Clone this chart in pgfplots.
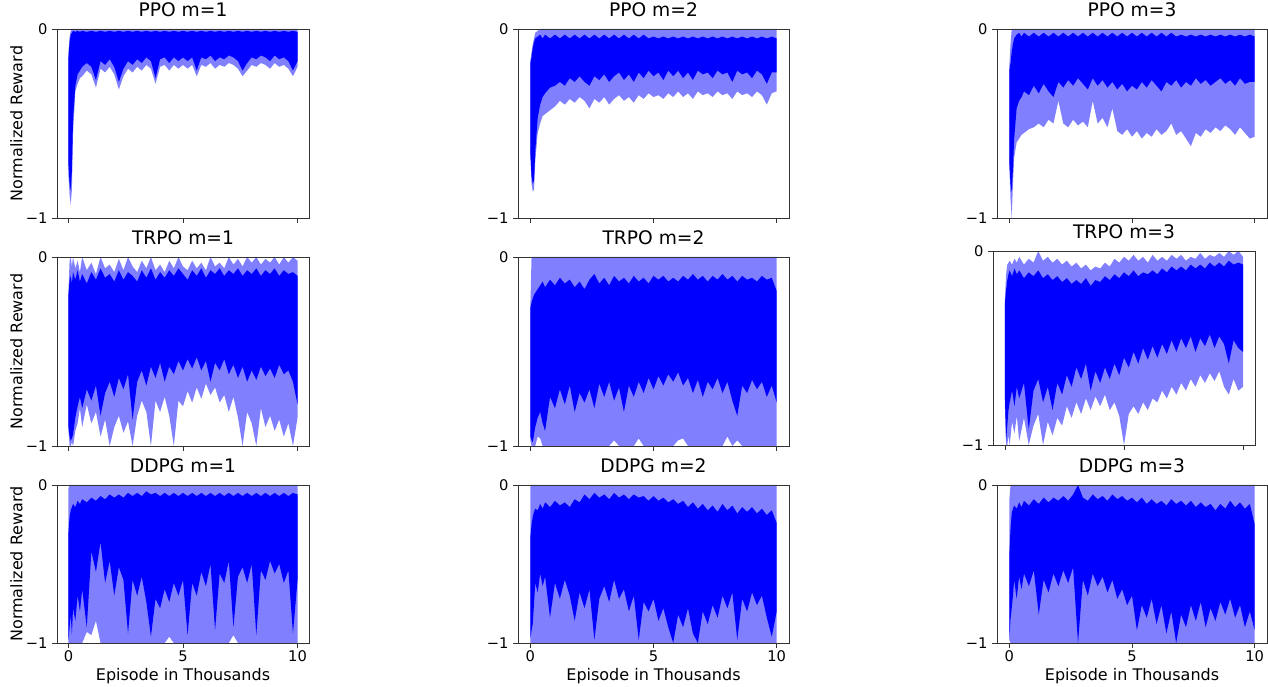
\documentclass[border=0pt]{standalone}
\usepackage{fontspec}
\setmainfont{DejaVu Sans}
\usepackage{pgfplots}
\usepackage{pgfplotstable}
\pgfplotsset{compat=1.18}
\usepgfplotslibrary{fillbetween}
\definecolor{lb}{RGB}{128,128,255}

\pgfplotstableread{
x lu ll du dl
0 -0.12 -0.78 -0.15 -0.72
0.05 -0.04 -0.88 -0.07 -0.82
0.1 -0.01 -0.93 -0.03 -0.85
0.15 0 -0.85 -0.02 -0.75
0.2 0 -0.55 -0.01 -0.48
0.3 0 -0.33 -0.015 -0.3
0.4 0 -0.29 -0.01 -0.24
0.5 0 -0.26 -0.015 -0.22
0.6 0 -0.25 -0.01 -0.2
0.8 0 -0.22 -0.015 -0.18
1.0 0 -0.24 -0.01 -0.2
1.2 0 -0.31 -0.015 -0.27
1.4 0 -0.21 -0.01 -0.17
1.6 0 -0.23 -0.015 -0.19
1.8 0 -0.2 -0.01 -0.16
2.0 0 -0.24 -0.015 -0.2
2.2 0 -0.32 -0.01 -0.28
2.4 0 -0.25 -0.015 -0.21
2.6 0 -0.21 -0.01 -0.17
2.8 0 -0.23 -0.015 -0.19
3.0 0 -0.2 -0.01 -0.16
3.2 0 -0.22 -0.015 -0.18
3.4 0 -0.19 -0.01 -0.15
3.6 0 -0.21 -0.015 -0.17
3.8 0 -0.29 -0.01 -0.26
4.0 0 -0.2 -0.015 -0.16
4.2 0 -0.19 -0.01 -0.15
4.4 0 -0.22 -0.015 -0.18
4.6 0 -0.19 -0.01 -0.15
4.8 0 -0.21 -0.015 -0.17
5.0 0 -0.19 -0.01 -0.15
5.2 0 -0.21 -0.015 -0.17
5.4 0 -0.19 -0.01 -0.15
5.6 0 -0.25 -0.015 -0.22
5.8 0 -0.19 -0.01 -0.15
6.0 0 -0.2 -0.015 -0.16
6.2 0 -0.18 -0.01 -0.14
6.4 0 -0.21 -0.015 -0.17
6.6 0 -0.19 -0.01 -0.15
6.8 0 -0.2 -0.015 -0.16
7.0 0 -0.18 -0.01 -0.14
7.2 0 -0.19 -0.015 -0.15
7.4 0 -0.21 -0.01 -0.17
7.6 0 -0.25 -0.015 -0.22
7.8 0 -0.22 -0.01 -0.18
8.0 0 -0.19 -0.015 -0.15
8.2 0 -0.2 -0.01 -0.16
8.4 0 -0.18 -0.015 -0.14
8.6 0 -0.19 -0.01 -0.15
8.8 0 -0.21 -0.015 -0.17
9.0 0 -0.18 -0.01 -0.14
9.2 0 -0.2 -0.015 -0.16
9.4 0 -0.19 -0.01 -0.15
9.6 0 -0.21 -0.015 -0.17
9.8 0 -0.25 -0.01 -0.22
10.0 0 -0.2 -0.015 -0.17
}\tPPOa

\pgfplotstableread{
x lu ll du dl
0 -0.17 -0.67 -0.18 -0.65
0.05 -0.12 -0.82 -0.15 -0.78
0.1 -0.08 -0.86 -0.1 -0.82
0.15 -0.05 -0.85 -0.07 -0.8
0.2 -0.02 -0.7 -0.05 -0.65
0.3 -0.01 -0.55 -0.04 -0.47
0.4 0 -0.5 -0.03 -0.4
0.5 0 -0.46 -0.05 -0.36
0.6 0 -0.45 -0.03 -0.34
0.8 0 -0.43 -0.05 -0.31
1.0 0 -0.41 -0.03 -0.3
1.2 0 -0.38 -0.05 -0.28
1.4 0 -0.4 -0.03 -0.3
1.6 0 -0.37 -0.05 -0.26
1.8 0 -0.39 -0.03 -0.28
2.0 0 -0.36 -0.05 -0.25
2.2 0 -0.38 -0.03 -0.28
2.4 0 -0.42 -0.05 -0.3
2.6 0 -0.37 -0.03 -0.25
2.8 0 -0.39 -0.05 -0.27
3.0 0 -0.36 -0.03 -0.24
3.2 0 -0.4 -0.05 -0.28
3.4 0 -0.37 -0.03 -0.25
3.6 0 -0.35 -0.05 -0.23
3.8 0 -0.38 -0.03 -0.27
4.0 0 -0.36 -0.05 -0.24
4.2 0 -0.39 -0.03 -0.28
4.4 0 -0.35 -0.05 -0.23
4.6 0 -0.37 -0.03 -0.26
4.8 0 -0.34 -0.05 -0.22
5.0 0 -0.36 -0.04 -0.25
5.2 0 -0.35 -0.05 -0.23
5.4 0 -0.37 -0.04 -0.27
5.6 0 -0.34 -0.05 -0.22
5.8 0 -0.36 -0.04 -0.25
6.0 0 -0.33 -0.05 -0.22
6.2 0 -0.36 -0.04 -0.26
6.4 0 -0.34 -0.05 -0.23
6.6 0 -0.37 -0.04 -0.27
6.8 0 -0.33 -0.05 -0.22
7.0 0 -0.35 -0.04 -0.24
7.2 0 -0.34 -0.05 -0.23
7.4 0 -0.36 -0.04 -0.26
7.6 0 -0.33 -0.05 -0.22
7.8 0 -0.35 -0.04 -0.24
8.0 0 -0.34 -0.05 -0.23
8.2 0 -0.37 -0.04 -0.28
8.4 0 -0.33 -0.05 -0.22
8.6 0 -0.35 -0.04 -0.24
8.8 0 -0.34 -0.05 -0.23
9.0 0 -0.36 -0.04 -0.26
9.2 0 -0.33 -0.05 -0.22
9.4 0 -0.35 -0.04 -0.24
9.6 0 -0.4 -0.05 -0.29
9.8 0 -0.34 -0.04 -0.23
10.0 0 -0.33 -0.05 -0.23
}\tPPOb

\pgfplotstableread{
x lu ll du dl
0 -0.2 -0.72 -0.22 -0.7
0.05 -0.08 -0.9 -0.18 -0.82
0.1 0 -1.0 -0.12 -0.86
0.15 0 -0.82 -0.08 -0.74
0.2 0 -0.68 -0.05 -0.58
0.3 0 -0.6 -0.03 -0.42
0.4 0 -0.58 -0.02 -0.38
0.5 0 -0.56 -0.04 -0.36
0.6 0 -0.55 -0.02 -0.33
0.8 0 -0.53 -0.04 -0.35
1.0 0 -0.52 -0.02 -0.3
1.2 0 -0.5 -0.04 -0.34
1.4 0 -0.52 -0.02 -0.29
1.6 0 -0.48 -0.04 -0.33
1.8 0 -0.5 -0.02 -0.36
2.0 0 -0.38 -0.04 -0.28
2.2 0 -0.5 -0.02 -0.31
2.4 0 -0.52 -0.04 -0.27
2.6 0 -0.48 -0.02 -0.3
2.8 0 -0.51 -0.04 -0.26
3.0 0 -0.49 -0.02 -0.29
3.2 0 -0.52 -0.04 -0.32
3.4 0 -0.38 -0.02 -0.26
3.6 0 -0.5 -0.04 -0.3
3.8 0 -0.47 -0.02 -0.27
4.0 0 -0.52 -0.04 -0.31
4.2 0 -0.42 -0.02 -0.28
4.4 0 -0.54 -0.04 -0.32
4.6 0 -0.56 -0.02 -0.29
4.8 0 -0.53 -0.04 -0.33
5.0 0 -0.57 -0.02 -0.3
5.2 0 -0.54 -0.04 -0.32
5.4 0 -0.58 -0.02 -0.28
5.6 0 -0.55 -0.04 -0.31
5.8 0 -0.57 -0.02 -0.27
6.0 0 -0.53 -0.04 -0.3
6.2 0 -0.56 -0.02 -0.33
6.4 0 -0.54 -0.04 -0.28
6.6 0 -0.5 -0.02 -0.3
6.8 0 -0.56 -0.04 -0.27
7.0 0 -0.54 -0.03 -0.31
7.2 0 -0.58 -0.04 -0.28
7.4 0 -0.62 -0.03 -0.3
7.6 0 -0.55 -0.04 -0.26
7.8 0 -0.57 -0.03 -0.29
8.0 0 -0.53 -0.04 -0.27
8.2 0 -0.55 -0.03 -0.3
8.4 0 -0.52 -0.04 -0.28
8.6 0 -0.54 -0.03 -0.26
8.8 0 -0.51 -0.04 -0.29
9.0 0 -0.53 -0.03 -0.27
9.2 0 -0.56 -0.04 -0.3
9.4 0 -0.52 -0.03 -0.26
9.6 0 -0.55 -0.04 -0.29
9.8 0 -0.58 -0.03 -0.28
10.0 0 -0.57 -0.04 -0.28
}\tPPOc

\pgfplotstableread{
x lu ll du dl
0 -0.18 -0.92 -0.2 -0.9
0.05 -0.02 -1.0 -0.12 -0.95
0.1 0 -1.0 -0.1 -0.97
0.15 -0.05 -0.98 -0.14 -0.96
0.2 0 -1.0 -0.08 -0.94
0.3 -0.06 -0.92 -0.12 -0.85
0.4 -0.02 -0.88 -0.07 -0.79
0.5 -0.08 -0.8 -0.13 -0.74
0.6 0 -0.9 -0.09 -0.8
0.8 -0.07 -0.78 -0.14 -0.7
1.0 -0.03 -0.88 -0.08 -0.76
1.2 -0.09 -0.82 -0.12 -0.68
1.4 0 -0.95 -0.06 -0.84
1.6 -0.06 -0.86 -0.11 -0.72
1.8 -0.04 -1.0 -0.09 -0.66
2.0 -0.08 -0.9 -0.13 -0.74
2.2 -0.01 -0.84 -0.07 -0.64
2.4 -0.07 -0.93 -0.12 -0.7
2.6 0 -0.87 -0.08 -0.62
2.8 -0.05 -1.0 -0.1 -0.86
3.0 -0.08 -0.84 -0.13 -0.66
3.2 -0.02 -0.76 -0.07 -0.6
3.4 -0.06 -0.82 -0.11 -0.68
3.6 0 -1.0 -0.06 -0.58
3.8 -0.07 -0.76 -0.12 -0.64
4.0 -0.04 -0.82 -0.08 -0.56
4.2 -0.08 -0.74 -0.11 -0.66
4.4 -0.02 -0.84 -0.07 -0.58
4.6 -0.06 -1.0 -0.1 -0.62
4.8 0 -0.76 -0.06 -0.55
5.0 -0.05 -0.79 -0.09 -0.6
5.2 -0.07 -0.71 -0.12 -0.54
5.4 -0.02 -0.77 -0.07 -0.59
5.6 -0.06 -0.69 -0.1 -0.53
5.8 -0.03 -0.75 -0.06 -0.6
6.0 -0.07 -0.67 -0.11 -0.55
6.2 0 -0.73 -0.07 -0.66
6.4 -0.05 -0.69 -0.09 -0.56
6.6 -0.03 -0.77 -0.06 -0.6
6.8 -0.06 -0.73 -0.1 -0.54
7.0 0 -0.82 -0.07 -0.62
7.2 -0.04 -0.74 -0.09 -0.57
7.4 -0.01 -0.85 -0.06 -0.64
7.6 -0.05 -1.0 -0.1 -0.58
7.8 0 -0.82 -0.07 -0.66
8.0 -0.03 -0.88 -0.09 -0.6
8.2 0 -1.0 -0.06 -0.65
8.4 -0.04 -0.8 -0.1 -0.58
8.6 -0.01 -0.9 -0.07 -0.63
8.8 -0.03 -0.84 -0.09 -0.59
9.0 0 -0.92 -0.06 -0.64
9.2 -0.04 -0.86 -0.1 -0.57
9.4 0 -0.95 -0.07 -0.62
9.6 -0.03 -0.88 -0.09 -0.6
9.8 0 -1.0 -0.08 -0.66
10.0 -0.02 -0.85 -0.1 -0.78
}\tTRPOa

\pgfplotstableread{
x lu ll du dl
0 -0.27 -0.97 -0.27 -0.95
0.05 0 -1.0 -0.24 -0.97
0.1 0 -1.0 -0.22 -0.98
0.15 0 -1.0 -0.2 -0.94
0.2 0 -1.0 -0.19 -0.9
0.3 0 -0.95 -0.17 -0.85
0.4 0 -0.96 -0.15 -0.82
0.5 0 -1.0 -0.13 -0.88
0.6 0 -1.0 -0.16 -0.92
0.8 0 -1.0 -0.12 -0.74
1.0 0 -1.0 -0.15 -0.8
1.2 0 -1.0 -0.11 -0.7
1.4 0 -1.0 -0.14 -0.78
1.6 0 -1.0 -0.12 -0.68
1.8 0 -1.0 -0.16 -0.82
2.0 0 -1.0 -0.13 -0.72
2.2 0 -1.0 -0.17 -0.77
2.4 0 -1.0 -0.12 -0.7
2.6 0 -1.0 -0.09 -0.8
2.8 0 -1.0 -0.14 -0.67
3.0 0 -1.0 -0.11 -0.74
3.2 0 -1.0 -0.15 -0.66
3.4 0 -0.97 -0.1 -0.76
3.6 0 -1.0 -0.13 -0.69
3.8 0 -1.0 -0.11 -0.82
4.0 0 -1.0 -0.14 -0.68
4.2 0 -1.0 -0.1 -0.74
4.4 0 -0.96 -0.13 -0.66
4.6 0 -1.0 -0.11 -0.72
4.8 0 -1.0 -0.14 -0.64
5.0 0 -1.0 -0.1 -0.7
5.2 0 -1.0 -0.12 -0.63
5.4 0 -1.0 -0.1 -0.68
5.6 0 -1.0 -0.13 -0.62
5.8 0 -1.0 -0.11 -0.66
6.0 0 -0.97 -0.13 -0.61
6.2 0 -0.96 -0.1 -0.68
6.4 0 -1.0 -0.12 -0.64
6.6 0 -1.0 -0.09 -0.72
6.8 0 -1.0 -0.12 -0.65
7.0 0 -1.0 -0.1 -0.74
7.2 0 -1.0 -0.13 -0.66
7.4 0 -1.0 -0.1 -0.7
7.6 0 -1.0 -0.12 -0.64
7.8 0 -1.0 -0.09 -0.72
8.0 0 -0.95 -0.12 -0.66
8.2 0 -1.0 -0.1 -0.76
8.4 0 -0.97 -0.13 -0.84
8.6 0 -1.0 -0.1 -0.68
8.8 0 -1.0 -0.12 -0.72
9.0 0 -1.0 -0.11 -0.65
9.2 0 -1.0 -0.13 -0.7
9.4 0 -1.0 -0.1 -0.66
9.6 0 -1.0 -0.12 -0.74
9.8 0 -1.0 -0.11 -0.68
10.0 0 -1.0 -0.18 -0.77
}\tTRPOb

\pgfplotstableread{
x lu ll du dl
0 -0.25 -0.8 -0.27 -0.75
0.05 -0.12 -1.0 -0.2 -0.98
0.1 -0.07 -1.0 -0.15 -0.9
0.15 -0.06 -0.95 -0.12 -0.82
0.2 -0.05 -1.0 -0.1 -0.78
0.3 -0.07 -0.88 -0.13 -0.72
0.4 -0.04 -0.94 -0.09 -0.8
0.5 -0.06 -0.85 -0.12 -0.7
0.6 -0.03 -0.98 -0.1 -0.76
0.8 -0.07 -0.86 -0.14 -0.68
1.0 -0.04 -1.0 -0.11 -0.92
1.2 -0.06 -0.9 -0.13 -0.72
1.4 0 -0.84 -0.1 -0.66
1.6 -0.05 -1.0 -0.14 -0.78
1.8 -0.03 -0.88 -0.12 -0.7
2.0 -0.06 -0.95 -0.15 -0.82
2.2 -0.04 -0.86 -0.13 -0.68
2.4 -0.07 -0.9 -0.16 -0.74
2.6 -0.05 -0.8 -0.14 -0.64
2.8 -0.08 -0.86 -0.17 -0.7
3.0 -0.06 -0.78 -0.15 -0.6
3.2 -0.09 -0.84 -0.17 -0.66
3.4 -0.07 -0.76 -0.14 -0.58
3.6 -0.1 -0.82 -0.18 -0.72
3.8 -0.08 -0.75 -0.15 -0.62
4.0 -0.09 -0.8 -0.16 -0.68
4.2 -0.06 -0.74 -0.13 -0.6
4.4 -0.08 -0.82 -0.15 -0.66
4.6 -0.04 -0.78 -0.12 -0.58
4.8 -0.06 -0.85 -0.14 -0.64
5.0 -0.03 -1.0 -0.11 -0.55
5.2 -0.05 -0.84 -0.13 -0.6
5.4 -0.02 -0.8 -0.1 -0.52
5.6 -0.05 -0.84 -0.13 -0.58
5.8 -0.03 -0.78 -0.11 -0.5
6.0 -0.06 -0.82 -0.12 -0.56
6.2 -0.02 -0.76 -0.1 -0.49
6.4 -0.05 -0.78 -0.12 -0.55
6.6 -0.03 -0.72 -0.09 -0.48
6.8 -0.05 -0.76 -0.11 -0.53
7.0 -0.02 -0.7 -0.08 -0.46
7.2 -0.04 -0.74 -0.1 -0.52
7.4 -0.02 -0.68 -0.08 -0.45
7.6 -0.05 -0.72 -0.1 -0.5
7.8 -0.03 -0.66 -0.07 -0.44
8.0 -0.04 -0.7 -0.09 -0.52
8.2 -0.01 -0.64 -0.07 -0.45
8.4 -0.04 -0.68 -0.09 -0.49
8.6 -0.02 -0.63 -0.06 -0.43
8.8 -0.03 -0.67 -0.08 -0.5
9.0 -0.01 -0.62 -0.06 -0.44
9.2 -0.03 -0.7 -0.08 -0.48
9.4 0 -0.74 -0.05 -0.58
9.6 -0.02 -0.66 -0.07 -0.46
9.8 0 -0.72 -0.06 -0.5
10.0 -0.03 -0.7 -0.07 -0.52
}\tTRPOc

\pgfplotstableread{
x lu ll du dl
0 -0.02 -1.0 -0.3 -0.98
0.05 0 -1.0 -0.2 -0.9
0.1 0 -1.0 -0.16 -0.82
0.15 0 -1.0 -0.14 -0.95
0.2 0 -1.0 -0.12 -0.78
0.3 0 -1.0 -0.14 -0.86
0.4 0 -1.0 -0.1 -0.7
0.5 0 -1.0 -0.12 -0.8
0.6 0 -1.0 -0.09 -0.66
0.8 0 -0.93 -0.11 -0.9
1.0 0 -0.95 -0.08 -0.42
1.2 0 -0.86 -0.1 -0.55
1.4 0 -1.0 -0.07 -0.36
1.6 0 -1.0 -0.09 -0.62
1.8 0 -1.0 -0.06 -0.48
2.0 0 -1.0 -0.08 -0.7
2.2 0 -1.0 -0.06 -0.52
2.4 0 -1.0 -0.08 -0.6
2.6 0 -1.0 -0.05 -0.94
2.8 0 -1.0 -0.07 -0.6
3.0 0 -1.0 -0.05 -0.7
3.2 0 -1.0 -0.07 -0.58
3.4 0 -1.0 -0.04 -0.74
3.6 0 -1.0 -0.06 -0.96
3.8 0 -1.0 -0.05 -0.72
4.0 0 -1.0 -0.07 -0.78
4.2 0 -1.0 -0.05 -0.66
4.4 0 -0.96 -0.07 -0.74
4.6 0 -1.0 -0.05 -0.62
4.8 0 -1.0 -0.07 -0.7
5.0 0 -1.0 -0.05 -0.6
5.2 0 -1.0 -0.07 -0.95
5.4 0 -1.0 -0.05 -0.62
5.6 0 -1.0 -0.07 -0.7
5.8 0 -1.0 -0.05 -0.55
6.0 0 -1.0 -0.07 -0.64
6.2 0 -1.0 -0.05 -0.5
6.4 0 -1.0 -0.07 -0.92
6.6 0 -1.0 -0.05 -0.56
6.8 0 -1.0 -0.07 -0.62
7.0 0 -1.0 -0.05 -0.48
7.2 0 -0.95 -0.07 -0.9
7.4 0 -1.0 -0.05 -0.58
7.6 0 -1.0 -0.07 -0.52
7.8 0 -1.0 -0.05 -0.62
8.0 0 -1.0 -0.07 -0.5
8.2 0 -1.0 -0.05 -0.95
8.4 0 -1.0 -0.07 -0.54
8.6 0 -1.0 -0.05 -0.6
8.8 0 -1.0 -0.07 -0.48
9.0 0 -1.0 -0.05 -0.56
9.2 0 -1.0 -0.07 -0.5
9.4 0 -1.0 -0.05 -0.62
9.6 0 -1.0 -0.07 -0.54
9.8 0 -1.0 -0.05 -0.94
10.0 0 -1.0 -0.06 -0.6
}\tDDPGa

\pgfplotstableread{
x lu ll du dl
0 0 -1.0 -0.33 -0.97
0.05 0 -1.0 -0.25 -0.92
0.1 0 -1.0 -0.2 -0.88
0.15 0 -1.0 -0.17 -0.75
0.2 0 -1.0 -0.15 -0.62
0.3 0 -1.0 -0.16 -0.68
0.4 0 -1.0 -0.12 -0.56
0.5 0 -1.0 -0.15 -0.64
0.6 0 -1.0 -0.11 -0.58
0.8 0 -1.0 -0.14 -0.84
1.0 0 -1.0 -0.1 -0.62
1.2 0 -1.0 -0.13 -0.72
1.4 0 -1.0 -0.11 -0.6
1.6 0 -1.0 -0.14 -0.7
1.8 0 -1.0 -0.09 -0.86
2.0 0 -1.0 -0.11 -0.68
2.2 0 -1.0 -0.06 -0.78
2.4 0 -1.0 -0.09 -0.66
2.6 0 -1.0 -0.05 -0.98
2.8 0 -1.0 -0.08 -0.72
3.0 0 -1.0 -0.06 -0.64
3.2 0 -1.0 -0.09 -0.74
3.4 0 -1.0 -0.05 -0.6
3.6 0 -1.0 -0.08 -0.72
3.8 0 -1.0 -0.06 -0.66
4.0 0 -1.0 -0.09 -0.8
4.2 0 -1.0 -0.06 -0.7
4.4 0 -1.0 -0.08 -0.98
4.6 0 -1.0 -0.07 -0.74
4.8 0 -1.0 -0.1 -0.8
5.0 0 -1.0 -0.07 -0.72
5.2 0 -1.0 -0.1 -0.86
5.4 0 -1.0 -0.08 -0.78
5.6 0 -1.0 -0.11 -0.9
5.8 0 -1.0 -0.09 -1.0
6.0 0 -1.0 -0.12 -0.82
6.2 0 -1.0 -0.1 -0.9
6.4 0 -1.0 -0.14 -0.78
6.6 0 -1.0 -0.11 -0.94
6.8 0 -1.0 -0.15 -1.0
7.0 0 -1.0 -0.12 -0.8
7.2 0 -1.0 -0.16 -0.88
7.4 0 -1.0 -0.13 -0.76
7.6 0 -1.0 -0.17 -0.84
7.8 0 -1.0 -0.12 -0.7
8.0 0 -1.0 -0.16 -0.78
8.2 0 -1.0 -0.13 -0.68
8.4 0 -1.0 -0.18 -0.98
8.6 0 -1.0 -0.14 -0.72
8.8 0 -1.0 -0.17 -0.8
9.0 0 -1.0 -0.14 -0.68
9.2 0 -1.0 -0.18 -0.76
9.4 0 -1.0 -0.15 -0.7
9.6 0 -1.0 -0.19 -0.84
9.8 0 -1.0 -0.16 -0.96
10.0 0 -1.0 -0.24 -0.8
}\tDDPGb

\pgfplotstableread{
x lu ll du dl
0 -0.1 -0.98 -0.45 -0.98
0.05 0 -1.0 -0.28 -0.85
0.1 0 -1.0 -0.18 -0.78
0.15 0 -1.0 -0.15 -0.7
0.2 0 -1.0 -0.13 -0.6
0.3 0 -1.0 -0.15 -0.72
0.4 0 -1.0 -0.11 -0.58
0.5 0 -1.0 -0.14 -0.66
0.6 0 -1.0 -0.1 -0.56
0.8 0 -1.0 -0.13 -0.64
1.0 0 -1.0 -0.09 -0.54
1.2 0 -1.0 -0.12 -0.82
1.4 0 -1.0 -0.08 -0.6
1.6 0 -1.0 -0.11 -0.68
1.8 0 -1.0 -0.08 -0.56
2.0 0 -1.0 -0.1 -0.64
2.2 0 -1.0 -0.07 -0.54
2.4 0 -1.0 -0.1 -0.62
2.6 0 -1.0 -0.06 -0.52
2.8 0 -1.0 0 -1.0
3.0 0 -1.0 -0.08 -0.6
3.2 0 -1.0 -0.1 -0.7
3.4 0 -1.0 -0.06 -0.56
3.6 0 -1.0 -0.09 -0.64
3.8 0 -1.0 -0.07 -0.58
4.0 0 -1.0 -0.1 -0.68
4.2 0 -1.0 -0.06 -0.6
4.4 0 -1.0 -0.09 -0.72
4.6 0 -1.0 -0.07 -0.66
4.8 0 -1.0 -0.1 -0.76
5.0 0 -1.0 -0.08 -0.7
5.2 0 -1.0 -0.11 -0.92
5.4 0 -1.0 -0.08 -0.76
5.6 0 -1.0 -0.12 -0.84
5.8 0 -1.0 -0.09 -0.72
6.0 0 -1.0 -0.12 -0.88
6.2 0 -1.0 -0.1 -0.76
6.4 0 -1.0 -0.13 -0.94
6.6 0 -1.0 -0.09 -0.8
6.8 0 -1.0 -0.12 -1.0
7.0 0 -1.0 -0.1 -0.82
7.2 0 -1.0 -0.13 -0.9
7.4 0 -1.0 -0.1 -0.76
7.6 0 -1.0 -0.14 -0.86
7.8 0 -1.0 -0.11 -0.74
8.0 0 -1.0 -0.14 -0.9
8.2 0 -1.0 -0.12 -0.78
8.4 0 -1.0 -0.16 -0.86
8.6 0 -1.0 -0.12 -0.74
8.8 0 -1.0 -0.15 -0.82
9.0 0 -1.0 -0.1 -0.72
9.2 0 -1.0 -0.14 -0.84
9.4 0 -1.0 -0.11 -0.76
9.6 0 -1.0 -0.15 -0.9
9.8 0 -1.0 -0.12 -0.8
10.0 0 -1.0 -0.25 -0.92
}\tDDPGc

\pgfplotsset{
  panel/.style={
    scale only axis,
    xmin=-0.5, xmax=10.5, ymin=-1, ymax=0,
    xtick={0,5,10}, ytick={-1,0}, yticklabels={−1,0},
    tick pos=left, tick align=outside, major tick length=3.6pt,
    axis line style={black!80, line width=0.6pt},
    every tick/.style={black!80, line width=0.6pt},
    axis on top,
    tick label style={font=\fontsize{11}{13}\selectfont},
    title style={font=\fontsize{14}{16}\selectfont, at={(0.5,1)}, anchor=base, yshift=3pt},
  },
  nolab/.style={xticklabels={,,}},
  botlab/.style={xticklabels={0,5,10}, xticklabel style={anchor=base, yshift=-10pt},
    xlabel={Episode in Thousands},
    every axis x label/.style={at={(axis description cs:0.5,0)}, anchor=base, yshift=-27.75pt,
      font=\fontsize{12}{14}\selectfont}},
  ylab/.style={ylabel={Normalized Reward},
    every axis y label/.style={at={(axis description cs:-0.161,0.5)}, rotate=90, anchor=center,
      font=\fontsize{12}{14}\selectfont}},
}

\newcommand{\panel}[1]{%
  \addplot[draw=none, name path=lu] table[x=x,y=lu]{#1};
  \addplot[draw=none, name path=ll] table[x=x,y=ll]{#1};
  \addplot[fill=lb, draw=none] fill between[of=lu and ll];
  \addplot[draw=none, name path=du] table[x=x,y=du]{#1};
  \addplot[draw=none, name path=dl] table[x=x,y=dl]{#1};
  \addplot[fill=blue, draw=none] fill between[of=du and dl];
}

\begin{document}
\begin{tikzpicture}
% row 1
\begin{axis}[panel, nolab, ylab, at={(42.75pt,351pt)}, anchor=south west, width=189pt, height=141.75pt, title={PPO m=1}]
\panel{\tPPOa}
\end{axis}
\begin{axis}[panel, nolab, at={(388.5pt,351pt)}, anchor=south west, width=203.25pt, height=141.75pt, title={PPO m=2}]
\panel{\tPPOb}
\end{axis}
\begin{axis}[panel, nolab, at={(747.75pt,351pt)}, anchor=south west, width=202.5pt, height=141.75pt, title={PPO m=3}]
\panel{\tPPOc}
\end{axis}
% row 2
\begin{axis}[panel, nolab, ylab, at={(42.75pt,180pt)}, anchor=south west, width=189pt, height=141.75pt, title={TRPO m=1}]
\panel{\tTRPOa}
\end{axis}
\begin{axis}[panel, nolab, at={(388.5pt,180pt)}, anchor=south west, width=203.25pt, height=141.75pt, title={TRPO m=2}]
\panel{\tTRPOb}
\end{axis}
\begin{axis}[panel, nolab, at={(744.75pt,180.75pt)}, anchor=south west, width=196.5pt, height=145.5pt, title={TRPO m=3}]
\panel{\tTRPOc}
\end{axis}
% row 3
\begin{axis}[panel, botlab, ylab, at={(42.75pt,32.25pt)}, anchor=south west, width=189pt, height=118.5pt, title={DDPG m=1}]
\panel{\tDDPGa}
\end{axis}
\begin{axis}[panel, botlab, at={(388.5pt,32.25pt)}, anchor=south west, width=203.25pt, height=118.5pt, title={DDPG m=2}]
\panel{\tDDPGb}
\end{axis}
\begin{axis}[panel, botlab, at={(747.75pt,32.25pt)}, anchor=south west, width=202.5pt, height=118.5pt, title={DDPG m=3}]
\panel{\tDDPGc}
\end{axis}
\pgfresetboundingbox
\useasboundingbox (0,0) rectangle (951pt,514.5pt);
\end{tikzpicture}
\end{document}
